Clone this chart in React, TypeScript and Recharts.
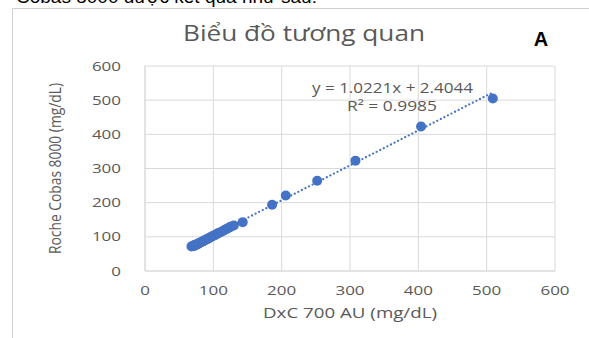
import React from "react";
import { ScatterChart, Scatter, XAxis, YAxis, CartesianGrid } from "recharts";

const dxcValues = [68, 70, 72, 73, 75, 77, 78, 80, 82, 84, 86, 88, 90, 92, 94, 96, 98, 100, 102, 104, 106, 108, 111, 114, 117, 120, 123, 126, 130, 143, 186, 206, 252, 308, 404, 509];
const cobasValues = [72, 74, 73, 77, 76, 80, 79, 83, 84, 86, 89, 90, 93, 94, 97, 99, 101, 103, 105, 107, 110, 111, 114, 117, 121, 124, 127, 130, 133, 143, 194, 221, 264, 323, 423, 505];
const axisTicks = [0, 100, 200, 300, 400, 500, 600];
const SLOPE = 1.0221;
const INTERCEPT = 2.4044;
const R2 = 0.9985;

const points = dxcValues.map((x, i) => ({ x, y: cobasValues[i] }));
const xMin = Math.min(...dxcValues);
const xMax = Math.max(...dxcValues);
const trend = [xMin, xMax].map((x) => ({ x, y: SLOPE * x + INTERCEPT }));

const BLUE = "#4472C4";
const GRAY_TEXT = "#595959";
const GRID = "#d9d9d9";
const FONT = "'Open Sans', sans-serif";

const XTick = (props: any) => {
  const { x, y, payload } = props;
  const s = String(payload.value);
  return (
    <text x={x} y={y + 10} textAnchor="middle" fontSize={13} fontFamily={FONT} fill={GRAY_TEXT} textLength={s.length * 9.7} lengthAdjust="spacingAndGlyphs">
      {s}
    </text>
  );
};

const YTick = (props: any) => {
  const { x, y, payload } = props;
  const s = String(payload.value);
  const w = s.length * 9.7;
  return (
    <text x={x - w} y={y + 4.5} textAnchor="start" fontSize={13} fontFamily={FONT} fill={GRAY_TEXT} textLength={w} lengthAdjust="spacingAndGlyphs">
      {s}
    </text>
  );
};

export default function App() {
  return (
    <div style={{ position: "absolute", left: 0, top: 0, width: 589, height: 338, background: "#fff", overflow: "hidden" }}>
      <ScatterChart width={589} height={338} margin={{ top: 66, right: 34, bottom: 37, left: 85 }}>
        <CartesianGrid stroke={GRID} strokeWidth={1} />
        <XAxis
          type="number"
          dataKey="x"
          domain={[0, 600]}
          ticks={axisTicks}
          height={30}
          axisLine={{ stroke: GRID }}
          tickLine={false}
          tick={<XTick />}
          tickMargin={8}
        />
        <YAxis
          type="number"
          dataKey="y"
          domain={[0, 600]}
          ticks={axisTicks}
          width={60}
          axisLine={{ stroke: GRID }}
          tickLine={false}
          tick={<YTick />}
          tickMargin={18}
        />
        <Scatter data={points} fill={BLUE} isAnimationActive={false} shape={(p: any) => <circle cx={p.cx} cy={p.cy} r={5} fill={BLUE} />} />
        <Scatter
          data={trend}
          isAnimationActive={false}
          line={{ stroke: BLUE, strokeWidth: 2.3, strokeDasharray: "0 4", strokeLinecap: "round" }}
          shape={() => <g />}
        />
      </ScatterChart>
      <svg width={589} height={338} style={{ position: "absolute", left: 0, top: 0, pointerEvents: "none" }}>
        <text x={16} y={3} fontSize={19} fontFamily="'Liberation Sans', Arial, sans-serif" fill="#000">Cobas 8000 được kết quả như sau:</text>
        <path d="M12.5 345 V8.5 H600" fill="none" stroke="#d0d0d0" strokeWidth={1} />
        <text x={183} y={41} fontSize={21} fontFamily={FONT} fill={GRAY_TEXT} textLength={242} lengthAdjust="spacingAndGlyphs">Biểu đồ tương quan</text>
        <text x={541} y={46} textAnchor="middle" fontSize={20} fontWeight="bold" fontFamily="'Liberation Sans', Arial, sans-serif" fill="#000">A</text>
        <text x={312} y={93} fontSize={14} fontFamily={FONT} fill={GRAY_TEXT} textLength={161} lengthAdjust="spacingAndGlyphs">{`y = ${SLOPE}x + ${INTERCEPT}`}</text>
        <text x={347} y={111} fontSize={14} fontFamily={FONT} fill={GRAY_TEXT} textLength={90} lengthAdjust="spacingAndGlyphs">{`R² = ${R2}`}</text>
        <text x={263} y={318} fontSize={15} fontFamily={FONT} fill={GRAY_TEXT} textLength={174} lengthAdjust="spacingAndGlyphs">DxC 700 AU (mg/dL)</text>
        <text x={0} y={0} transform="translate(61 254) rotate(-90)" fontSize={17} fontFamily={FONT} fill={GRAY_TEXT} textLength={171} lengthAdjust="spacingAndGlyphs">Roche Cobas 8000 (mg/dL)</text>
      </svg>
    </div>
  );
}
